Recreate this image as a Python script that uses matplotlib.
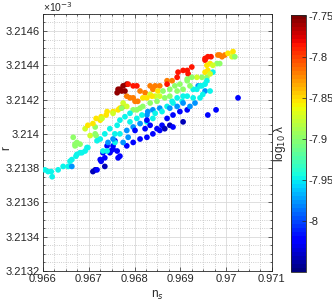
import numpy as np
import matplotlib
matplotlib.use("Agg")
import matplotlib.pyplot as plt
from matplotlib.ticker import MultipleLocator

plt.rcParams['font.family'] = ['Liberation Sans', 'DejaVu Sans']

# colour classes (log10 lambda)
DR, R, O, Y, YG, G, C, LB, B, DB = (-7.755, -7.785, -7.82, -7.855, -7.875,
                                    -7.90, -7.945, -7.975, -8.02, -8.045)

ns = [0.96611, 0.96620, 0.96618, 0.96633, 0.96644, 0.96655, 0.96663, 0.96659,
      0.96663, 0.96674, 0.96681, 0.96692, 0.96698, 0.96685, 0.96672, 0.96604,
      0.96666, 0.96670, 0.96674, 0.96681, 0.96670, 0.96703, 0.96714, 0.96714,
      0.96716, 0.96709, 0.96716, 0.96725, 0.96727, 0.96738, 0.96740, 0.96753,
      0.96753, 0.96764, 0.96768, 0.96729, 0.96775, 0.96783, 0.96790, 0.96801,
      0.96797, 0.96807, 0.96812, 0.96823, 0.96818, 0.96762, 0.96764, 0.96772,
      0.96775, 0.96783, 0.96779, 0.96768, 0.96786, 0.96797, 0.96805, 0.96834,
      0.96840, 0.96845, 0.96855, 0.96851, 0.96871, 0.96882, 0.96871, 0.96893,
      0.96895, 0.96906, 0.96915, 0.96917, 0.96925, 0.96954, 0.96960, 0.96967,
      0.96954, 0.96982, 0.96991, 0.96997, 0.97004, 0.97015, 0.97013, 0.97019,
      0.96986, 0.96958, 0.96965, 0.96980, 0.96986, 0.96971, 0.96954, 0.96960,
      0.96971, 0.96947, 0.96958, 0.96936, 0.96965, 0.96954, 0.96947, 0.96939,
      0.96954, 0.96965, 0.96958, 0.96915, 0.96925, 0.96899, 0.96915, 0.96888,
      0.96877, 0.96862, 0.96855, 0.96834, 0.96845, 0.96827, 0.96838, 0.96928,
      0.96943, 0.96936, 0.96915, 0.96906, 0.96904, 0.96893, 0.96884, 0.96882,
      0.96871, 0.96855, 0.96840, 0.96829, 0.96827, 0.96816, 0.96805, 0.96790,
      0.96775, 0.96783, 0.96772, 0.96840, 0.96827, 0.96812, 0.96797, 0.96871,
      0.96884, 0.96899, 0.96915, 0.96877, 0.96906, 0.96827, 0.96834, 0.96849,
      0.96860, 0.96812, 0.96797, 0.96783, 0.96827, 0.96840, 0.96855, 0.96866,
      0.96884, 0.96783, 0.96797, 0.96775, 0.96753, 0.96762, 0.96768, 0.96746,
      0.96753, 0.96764, 0.96740, 0.96731, 0.96748, 0.96735, 0.96727, 0.96735,
      0.96709, 0.96714, 0.96718, 0.96725, 0.96757, 0.96757, 0.96757, 0.96718,
      0.96696, 0.96740, 0.96731, 0.96960, 0.96978, 0.97026, 0.96921, 0.96932,
      0.96943, 0.96949, 0.96928, 0.96818, 0.96834, 0.96849, 0.96866, 0.96877,
      0.96893, 0.96906, 0.96921, 0.96805, 0.96790, 0.96779, 0.96768, 0.96762,
      0.96746, 0.96735, 0.96725, 0.96845, 0.96860, 0.96877, 0.96893, 0.96906,
      0.96812, 0.96801, 0.96823, 0.96786, 0.96768, 0.96753, 0.96742, 0.96692,
      0.96698]

# r in units of 1e-3
r = [3.21378, 3.21375, 3.21378, 3.21379, 3.21381, 3.21381, 3.21381, 3.21384,
     3.21385, 3.21388, 3.21389, 3.21390, 3.21392, 3.21389, 3.21387, 3.21379,
     3.21398, 3.21394, 3.21395, 3.21394, 3.21393, 3.21399, 3.21404, 3.21400,
     3.21399, 3.21406, 3.21409, 3.21408, 3.21410, 3.21411, 3.21413, 3.21413,
     3.21412, 3.21414, 3.21415, 3.21409, 3.21416, 3.21422, 3.21421, 3.21419,
     3.21421, 3.21419, 3.21425, 3.21424, 3.21421, 3.21424, 3.21426, 3.21425,
     3.21428, 3.21429, 3.21425, 3.21426, 3.21429, 3.21428, 3.21428, 3.21428,
     3.21426, 3.21428, 3.21428, 3.21425, 3.21431, 3.21431, 3.21429, 3.21433,
     3.21436, 3.21437, 3.21437, 3.21435, 3.21439, 3.21443, 3.21445, 3.21445,
     3.21444, 3.21446, 3.21445, 3.21446, 3.21447, 3.21448, 3.21445, 3.21445,
     3.21446, 3.21440, 3.21441, 3.21441, 3.21441, 3.21440, 3.21436, 3.21437,
     3.21436, 3.21433, 3.21433, 3.21433, 3.21435, 3.21429, 3.21428, 3.21428,
     3.21425, 3.21425, 3.21431, 3.21432, 3.21433, 3.21429, 3.21431, 3.21428,
     3.21426, 3.21425, 3.21422, 3.21423, 3.21422, 3.21421, 3.21422, 3.21426,
     3.21428, 3.21426, 3.21422, 3.21422, 3.21419, 3.21421, 3.21418, 3.21419,
     3.21416, 3.21415, 3.21414, 3.21413, 3.21411, 3.21411, 3.21409, 3.21407,
     3.21418, 3.21416, 3.21415, 3.21409, 3.21407, 3.21415, 3.21414, 3.21409,
     3.21411, 3.21413, 3.21414, 3.21405, 3.21407, 3.21408, 3.21405, 3.21403,
     3.21405, 3.21397, 3.21395, 3.21393, 3.21398, 3.21400, 3.21402, 3.21403,
     3.21404, 3.21402, 3.21404, 3.21395, 3.21393, 3.21390, 3.21387, 3.21389,
     3.21391, 3.21386, 3.21393, 3.21389, 3.21390, 3.21386, 3.21384, 3.21381,
     3.21378, 3.21379, 3.21379, 3.21385, 3.21396, 3.21400, 3.21395, 3.21396,
     3.21392, 3.21390, 3.21390, 3.21411, 3.21414, 3.21421, 3.21416, 3.21418,
     3.21421, 3.21423, 3.21421, 3.21416, 3.21418, 3.21419, 3.21421, 3.21422,
     3.21425, 3.21426, 3.21428, 3.21414, 3.21412, 3.21410, 3.21408, 3.21405,
     3.21403, 3.21400, 3.21397, 3.21412, 3.21413, 3.21415, 3.21416, 3.21418,
     3.21406, 3.21402, 3.21403, 3.21398, 3.21400, 3.21397, 3.21395, 3.21403,
     3.21405]

log_lambda = [C, C, C, C, C, C, LB, C, C, C, C, C, C, C, C, C,
              G, G, G, G, G, YG, G, G, G, Y, Y, Y, Y, Y, Y, Y,
              YG, Y, Y, YG, O, O, O, O, O, O, O, O, Y, DR, DR, DR,
              DR, DR, DR, DR, R, R, R, O, O, O, O, Y, O, O, R, R,
              R, R, R, R, R, R, R, R, R, O, O, O, Y, Y, YG, G,
              O, Y, Y, G, G, YG, Y, Y, C, G, G, YG, YG, C, C, LB,
              LB, C, C, G, G, G, G, G, G, G, YG, YG, YG, Y, Y, C,
              C, C, C, C, C, C, C, C, C, LB, LB, LB, LB, C, C, C,
              YG, YG, G, C, C, G, G, B, B, B, B, DB, DB, B, B, B,
              B, B, B, B, B, B, B, DB, B, LB, LB, LB, B, B, B, B,
              B, B, B, B, B, B, B, DB, DB, DB, B, B, B, C, C, C,
              C, C, C, B, B, B, LB, LB, C, C, C, G, G, G, G, G,
              G, G, G, G, C, C, C, C, C, C, C, C, C, LB, LB, LB,
              LB, B, B, LB, C, LB, LB, YG, Y]

xticks = [0.966, 0.967, 0.968, 0.969, 0.970, 0.971]
xtick_labels = ['0.966', '0.967', '0.968', '0.969', '0.97', '0.971']
yticks = [3.2132, 3.2134, 3.2136, 3.2138, 3.2140, 3.2142, 3.2144, 3.2146]
ytick_labels = ['3.2132', '3.2134', '3.2136', '3.2138', '3.214', '3.2142',
                '3.2144', '3.2146']
cticks = [-8.0, -7.95, -7.9, -7.85, -7.8, -7.75]
ctick_labels = ['-8', '-7.95', '-7.9', '-7.85', '-7.8', '-7.75']

dark = (0.15, 0.15, 0.15)
fig = plt.figure(figsize=(3.32, 3.05), dpi=100)
ax = fig.add_axes([0.1295, 0.1115, 0.6895, 0.843])
cax = fig.add_axes([0.8765, 0.108, 0.045, 0.843])

sc = ax.scatter(ns, r, c=log_lambda, cmap=plt.get_cmap('jet', 64),
                vmin=-8.062, vmax=-7.749, s=17, linewidths=0, zorder=3)

ax.set_xlim(0.966, 0.971)
ax.set_ylim(3.2132, 3.2147)
ax.set_xticks(xticks)
ax.set_xticklabels(xtick_labels)
ax.set_yticks(yticks)
ax.set_yticklabels(ytick_labels)
ax.xaxis.set_minor_locator(MultipleLocator(0.00025))
ax.yaxis.set_minor_locator(MultipleLocator(0.00005))
ax.grid(True, which='major', color='0.85', linewidth=0.6, zorder=0)
ax.grid(True, which='minor', color='0.75', linestyle=':', linewidth=0.6, zorder=0)
ax.set_axisbelow(True)
ax.tick_params(which='both', direction='in', top=True, right=True,
               colors=dark, labelsize=8, width=0.5, pad=2.5)
ax.tick_params(which='major', length=3)
ax.tick_params(which='minor', length=1.5)
for sp in ax.spines.values():
    sp.set_color(dark)
    sp.set_linewidth(0.6)
ax.set_xlabel('n$_s$', fontsize=8.5, color=dark, labelpad=3)
ax.set_ylabel('r', fontsize=8.5, color=dark)
ax.yaxis.set_label_coords(-0.135, 0.48)
ax.text(0.0, 0.998, '\u00d710$^{-3}$', transform=ax.transAxes, fontsize=7.5,
        color=dark, ha='left', va='bottom')

cb = fig.colorbar(sc, cax=cax)
cb.set_ticks(cticks)
cb.set_ticklabels(ctick_labels)
cb.outline.set_linewidth(0.6)
cb.outline.set_edgecolor(dark)
cax.tick_params(direction='in', length=3, width=0.5, colors=dark,
                labelsize=8, pad=1.5)
cax.yaxis.set_label_position('left')
cax.set_ylabel('log$_{10}$ \u03bb', fontsize=8.5, color=dark, labelpad=2,
               rotation=90)

fig.savefig('out.png', dpi=100)
